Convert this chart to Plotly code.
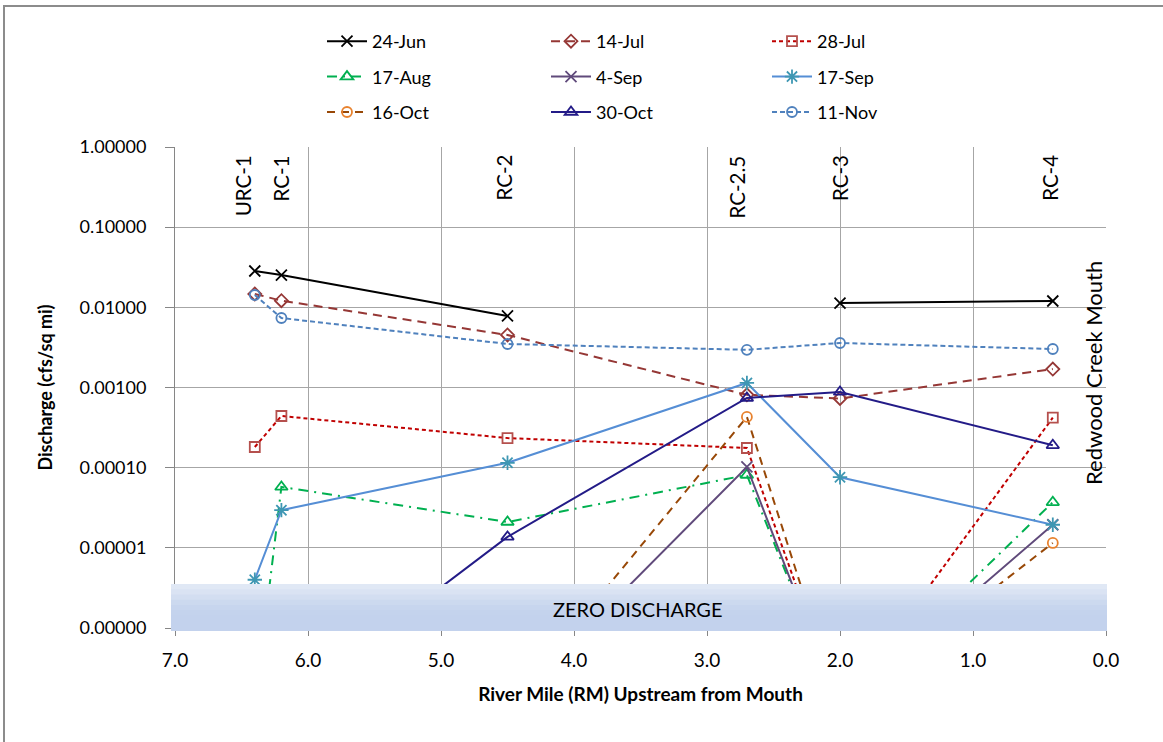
import plotly.graph_objects as go

# ---------------- data ----------------
station_names = ["URC-1", "RC-1", "RC-2", "RC-2.5", "RC-3", "RC-4"]
station_miles = [6.4, 6.2, 4.5, 2.7, 2.0, 0.4]

dates = ["24-Jun", "14-Jul", "28-Jul", "17-Aug", "4-Sep", "17-Sep", "16-Oct", "30-Oct", "11-Nov"]

# discharge (cfs/sq mi); 0 = zero discharge, None = not measured
q_24jun = [0.0284, 0.0253, 0.0078, None, 0.0113, 0.0120]
q_14jul = [0.0147, 0.0121, 0.00452, 0.00081, 0.00073, 0.0017]
q_28jul = [0.000181, 0.000441, 0.000234, 0.000176, 0, 0.00042]
q_17aug = [0, 0.0000575, 0.000021, 0.000081, 0, 0.000037]
q_4sep = [0, 0, 0, 0.000102, 0, 0.0000194]
q_17sep = [0.000004, 0.0000295, 0.000115, 0.00114, 0.000076, 0.0000194]
q_16oct = [0, 0, 0, 0.00043, 0, 0.0000115]
q_30oct = [0, 0, 0.0000137, 0.00074, 0.00088, 0.00019]
q_11nov = [0.01426, 0.00736, 0.00349, 0.00295, 0.00359, 0.00302]

series_values = [q_24jun, q_14jul, q_28jul, q_17aug, q_4sep, q_17sep, q_16oct, q_30oct, q_11nov]

y_tick_vals = [1e-6, 1e-5, 1e-4, 1e-3, 1e-2, 1e-1, 1]
y_tick_text = ["0.00000", "0.00001", "0.00010", "0.00100", "0.01000", "0.10000", "1.00000"]
x_tick_vals = [7, 6, 5, 4, 3, 2, 1, 0]

ZERO_PLOT = 1e-7  # zero discharge drawn below the axis floor (hidden under band)

# ---------------- styles ----------------
styles = [
    dict(lc="#000000", mc="#000000", dash="solid", sym="x-thin", ms=11, legend="legend"),
    dict(lc="#953735", mc="#953735", dash="9px,6px", sym="diamond-open", ms=10, legend="legend2"),
    dict(lc="#c00000", mc="#b5504d", dash="4px,3px", sym="square-open", ms=10, legend="legend3"),
    dict(lc="#00b050", mc="#00b050", dash="10px,6px,2px,6px", sym="triangle-up-open", ms=11, legend="legend"),
    dict(lc="#604a7b", mc="#604a7b", dash="solid", sym="x-thin", ms=11, legend="legend2"),
    dict(lc="#558ed5", mc="#3e97b3", dash="solid", sym="asterisk-open", ms=12, legend="legend3"),
    dict(lc="#984807", mc="#e8822e", dash="8px,6px", sym="circle-open", ms=10, legend="legend"),
    dict(lc="#231b87", mc="#231b87", dash="solid", sym="triangle-up-open", ms=11, legend="legend2"),
    dict(lc="#4f81bd", mc="#4f81bd", dash="5px,3px", sym="circle-open", ms=10, legend="legend3"),
]

FONT = "Lato"

fig = go.Figure()
for name, vals, st in zip(dates, series_values, styles):
    yv = [None if v is None else (ZERO_PLOT if v == 0 else v) for v in vals]
    fig.add_trace(go.Scatter(
        x=station_miles, y=yv, name=name, mode="lines+markers",
        connectgaps=False,
        line=dict(color=st["lc"], width=2, dash=st["dash"]),
        marker=dict(symbol=st["sym"], size=st["ms"], color=st["mc"],
                    line=dict(width=1.8, color=st["mc"])),
        legend=st["legend"], legendgroup=name,
    ))

# ---------------- layout ----------------
L, R, T, B = 175, 57, 147, 114
W, H = 1163, 742
pw, ph = W - L - R, H - T - B

def px_x(p):
    return (p - L) / pw

def px_y(p):
    return (H - B - p) / ph

shapes = []
# zero discharge band (vertical gradient approximated by overlapping strips)
band_top, band_bot = 584, 631
grad = ["#e0e8f5", "#dae3f3", "#d3def1", "#ccd9ef", "#c7d5ee", "#c4d3ed", "#c3d2ed"]
n = len(grad)
for i, c in enumerate(grad):
    y0p = band_top + (band_bot - band_top) * i / (n + 2)
    shapes.append(dict(type="rect", xref="paper", yref="paper",
                       x0=px_x(171), x1=px_x(1107), y0=px_y(band_bot), y1=px_y(y0p),
                       fillcolor=c, line=dict(width=0), layer="above"))
# outer chart border (top / left visible)
shapes.append(dict(type="rect", xref="paper", yref="paper",
                   x0=px_x(4), x1=px_x(1175), y0=px_y(760), y1=px_y(6),
                   line=dict(color="#8c8c8c", width=2), fillcolor="rgba(0,0,0,0)", layer="below"))

annotations = []
label_shift = {"URC-1": -12, "RC-1": 0, "RC-2": -4, "RC-2.5": -10, "RC-3": 0, "RC-4": -3}
for nm, mi in zip(station_names, station_miles):
    annotations.append(dict(x=mi, xref="x", y=px_y(153), yref="paper", text=nm,
                            textangle=-90, showarrow=False, yanchor="top", xanchor="center",
                            xshift=label_shift[nm],
                            font=dict(family=FONT, size=20.5, color="#000000")))
annotations.append(dict(x=px_x(1093), y=px_y(373), xref="paper", yref="paper",
                        text="Redwood Creek Mouth", textangle=-90, showarrow=False,
                        xanchor="center", yanchor="middle",
                        font=dict(family=FONT, size=22, color="#000000")))
annotations.append(dict(x=px_x(638), y=px_y(609), xref="paper", yref="paper",
                        text="ZERO DISCHARGE", showarrow=False,
                        xanchor="center", yanchor="middle",
                        font=dict(family=FONT, size=20, color="#000000")))

leg_common = dict(orientation="v", yanchor="top", xanchor="left", bgcolor="rgba(0,0,0,0)",
                  font=dict(family=FONT, size=18, color="#000000"),
                  traceorder="grouped", tracegroupgap=9, itemwidth=40)

fig.update_layout(
    width=W, height=H,
    margin=dict(l=L, r=R, t=T, b=B),
    paper_bgcolor="white", plot_bgcolor="white",
    font=dict(family=FONT, size=18, color="#000000"),
    shapes=shapes, annotations=annotations,
    legend=dict(x=px_x(322), y=px_y(23), **leg_common),
    legend2=dict(x=px_x(546), y=px_y(23), **leg_common),
    legend3=dict(x=px_x(767), y=px_y(23), **leg_common),
    xaxis=dict(range=[7, 0], tickvals=x_tick_vals, tickformat=".1f",
               showgrid=True, gridcolor="#a6a6a6", gridwidth=1,
               showline=True, linecolor="#868686", linewidth=1,
               ticks="outside", ticklen=7, tickcolor="#868686",
               ticklabelstandoff=8,
               zeroline=False,
               tickfont=dict(family=FONT, size=19),
               title=dict(text="<b>River Mile (RM) Upstream from Mouth</b>",
                          font=dict(family=FONT, size=19), standoff=17)),
    yaxis=dict(type="log", range=[-6, 0], tickvals=y_tick_vals, ticktext=y_tick_text,
               showgrid=True, gridcolor="#a6a6a6", gridwidth=1,
               showline=True, linecolor="#868686", linewidth=1,
               ticks="outside", ticklen=9, tickcolor="#868686",
               ticklabelstandoff=15,
               tickfont=dict(family=FONT, size=18),
               title=dict(text="<b>Discharge (cfs/sq mi)</b>",
                          font=dict(family=FONT, size=18), standoff=22)),
)

fig.write_html("out.html", config={"displayModeBar": False},
               post_script="document.body.style.margin='0';")
